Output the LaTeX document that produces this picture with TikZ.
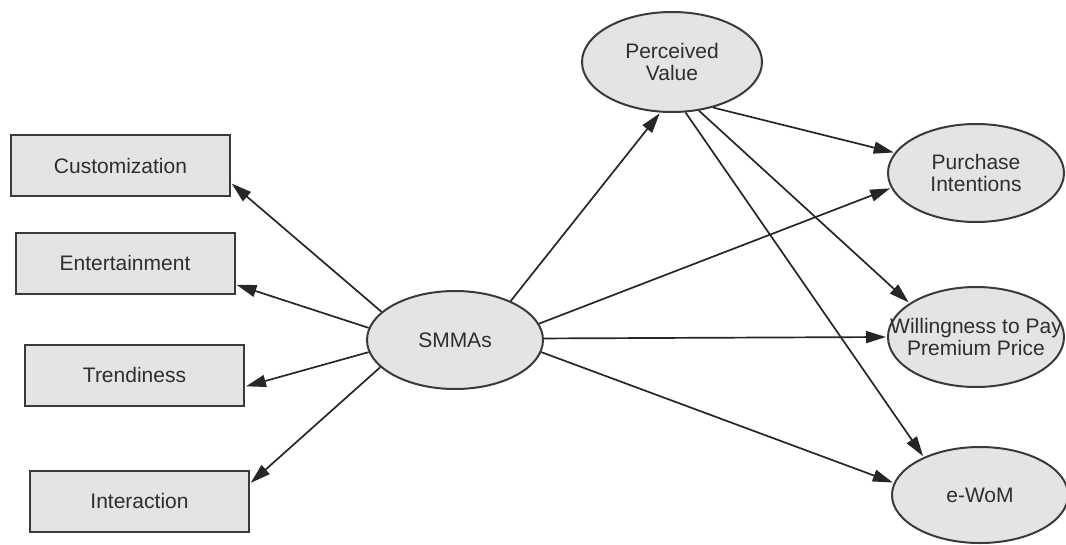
\documentclass[tikz,border=0pt]{standalone}
\usepackage{fontspec}
\setmainfont{Liberation Sans}
\usetikzlibrary{arrows.meta,shapes.geometric}
\definecolor{boxfill}{HTML}{E4E4E4}
\definecolor{edgecol}{HTML}{3A3A3A}
\definecolor{txtcol}{HTML}{2E2E2E}
\begin{document}
\begin{tikzpicture}[x=1pt,y=-1pt,
  every node/.style={font=\fontsize{21}{22}\selectfont, text=txtcol, align=center},
  sqbox/.style={draw=edgecol, line width=2pt, fill=boxfill, rectangle, minimum width=219pt, minimum height=61pt, inner sep=0pt},
  oval/.style={draw=edgecol, line width=2pt, fill=boxfill, ellipse, minimum width=176pt, minimum height=98pt, inner sep=0pt},
  ovaltext/.style={label={[inner sep=0pt]center:#1}},
  conn/.style={draw=black!85, line width=1.7pt, -{Triangle[length=20pt,width=12pt]}, shorten >=1pt}]
\useasboundingbox (0,0) rectangle (1066,544);
\node[sqbox] (cust) at (120.5,165.5) {Customization};
\node[sqbox] (ent) at (125,263) {Entertainment};
\node[sqbox] (trend) at (134.5,375) {Trendiness};
\node[sqbox] (inter) at (139.5,501) {Interaction};
\node[oval, ovaltext={SMMAs}] (smma) at (455,340) {};
\node[oval, minimum width=180pt, minimum height=100pt, ovaltext={Perceived\\Value}] (pv) at (672,62) {};
\node[oval, ovaltext={Purchase\\Intentions}] (pi) at (976,173) {};
\node[oval, minimum height=100pt, ovaltext={Willingness to Pay\\Premium Price}] (wtp) at (976,337) {};
\node[oval, minimum height=96pt, ovaltext={e-WoM}] (ewom) at (980,495) {};
\draw[conn] (smma.159) -- (cust.-9);
\draw[conn] (smma.172) -- (ent.-11);
\draw[conn] (smma.188) -- (trend.-6);
\draw[conn] (smma.200) -- (inter.9);
\draw[conn] (smma.35) -- (pv.-103);
\draw[conn] (smma.11) -- (pi.190);
\draw[conn] (smma.1) -- (wtp.180);
\draw[conn] (smma.-8) -- (ewom.172);
\draw[conn] (pv.-48) -- (pi.166);
\draw[conn] (pv.-61) -- (wtp.153);
\draw[conn] (pv.-75) -- (ewom.146);
\end{tikzpicture}
\end{document}
